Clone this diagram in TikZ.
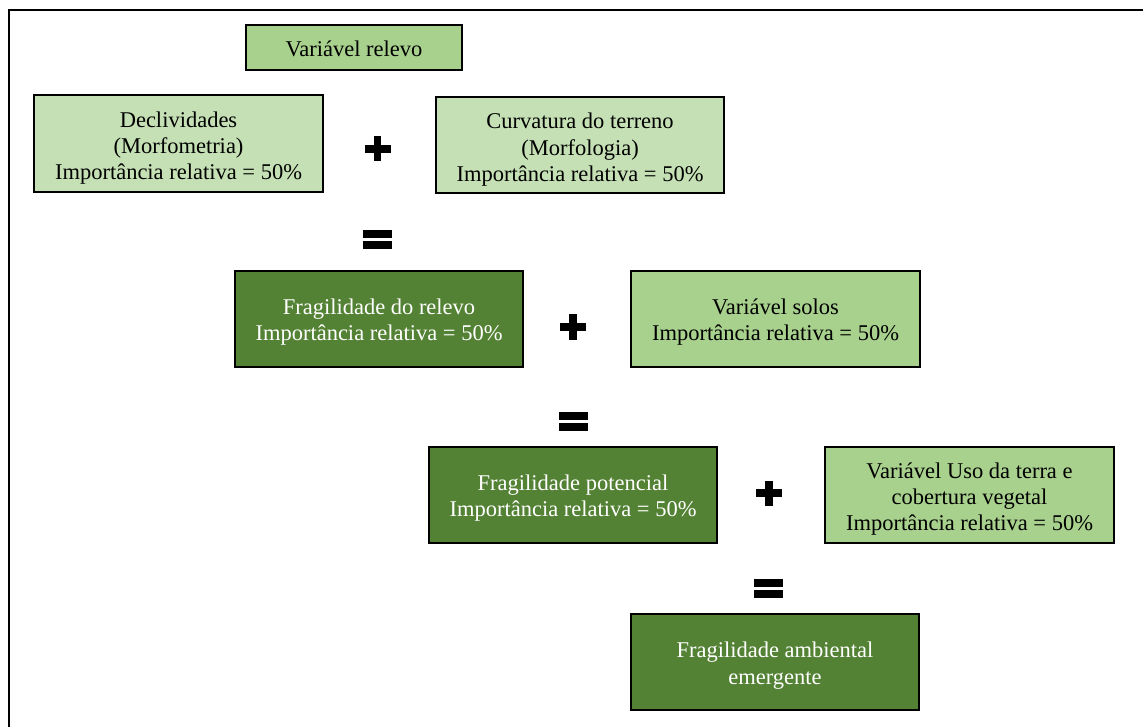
\documentclass[tikz,border=0pt]{standalone}
\usepackage{fontspec}
\setmainfont{Liberation Serif}
\definecolor{lightg}{HTML}{C5E0B4}
\definecolor{midg}{HTML}{A9D18E}
\definecolor{darkg}{HTML}{548235}
\newcommand{\tp}[1]{\rule{0pt}{#1pt}}
\begin{document}
\begin{tikzpicture}[x=1pt,y=-1pt,
  box/.style={draw=black, line width=2.4pt, align=center, inner sep=0pt,
    minimum width=288pt, minimum height=96pt,
    font=\fontsize{22.5}{26.2}\selectfont},
  lbox/.style={box, fill=lightg, text=black},
  mbox/.style={box, fill=midg, text=black},
  dbox/.style={box, fill=darkg, text=white},
  plussign/.pic={\fill (-13,-3.8) rectangle (13,3.8); \fill (-3.8,-12.5) rectangle (3.8,12.5);},
  eqsign/.pic={\fill (-14.5,-9.5) rectangle (14.5,-1.5); \fill (-14.5,1.5) rectangle (14.5,9.5);}
]
\useasboundingbox (0,0) rectangle (1143,727);
\fill[white] (0,0) rectangle (1143,727);
% outer frame (right and bottom edges lie outside the picture)
\draw[line width=2pt] (9,740) -- (9,10) -- (1160,10);

\node[mbox, minimum width=216pt, minimum height=45pt] (varrel) at (354,47.5) {\tp{18}Variável relevo};
\node[lbox, minimum width=289pt, minimum height=97pt] (decl) at (178.5,143.5) {\tp{25}Declividades\\(Morfometria)\\Importância relativa = 50\%};
\node[lbox] (curv) at (580,145) {\tp{25}Curvatura do terreno\\(Morfologia)\\Importância relativa = 50\%};

\node[dbox] (frel) at (379,319) {\tp{22}Fragilidade do relevo\\Importância relativa = 50\%};
\node[mbox, minimum width=289pt] (solos) at (775.5,319) {\tp{22}Variável solos\\Importância relativa = 50\%};

\node[dbox] (fpot) at (573,495) {\tp{22}Fragilidade potencial\\Importância relativa = 50\%};
\node[mbox, minimum width=289pt] (uso) at (969.5,495) {\tp{24}Variável Uso da terra e\\cobertura vegetal\\Importância relativa = 50\%};

\node[dbox] (famb) at (775,662) {\tp{23}Fragilidade ambiental\\emergente};

\pic at (377.5,149) {plussign};
\pic at (377.5,239.5) {eqsign};
\pic at (573,327) {plussign};
\pic at (573,421) {eqsign};
\pic at (769,493) {plussign};
\pic at (768,588) {eqsign};
\end{tikzpicture}
\end{document}
